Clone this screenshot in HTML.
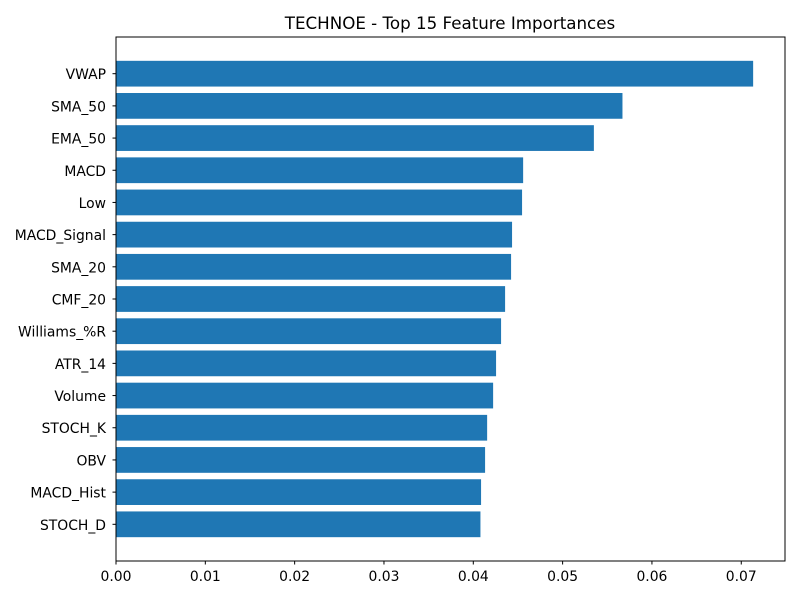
<!DOCTYPE html>
<html><head><meta charset="utf-8"><style>
body{margin:0;background:#fff;font-family:"DejaVu Sans","Liberation Sans",sans-serif}
</style></head><body>
<svg id="chart" width="800" height="600" xmlns="http://www.w3.org/2000/svg" font-family="DejaVu Sans, Liberation Sans, sans-serif">
<rect width="800" height="600" fill="#fff"/>
<text x="450" y="29" text-anchor="middle" font-size="16.7">TECHNOE - Top 15 Feature Importances</text>
<g id="bars"></g><g id="yticks"></g><g id="xticks"></g>
<rect x="116" y="37" width="669" height="524" fill="none" stroke="#000" stroke-width="1"/>
</svg>
<script>
const features=["VWAP","SMA_50","EMA_50","MACD","Low","MACD_Signal","SMA_20","CMF_20","Williams_%R","ATR_14","Volume","STOCH_K","OBV","MACD_Hist","STOCH_D"];
const importances=[0.07133,0.0567,0.0535,0.04558,0.04546,0.04434,0.04423,0.04356,0.04311,0.04255,0.04222,0.04155,0.04132,0.04087,0.0408];
const xTicks=[0,0.01,0.02,0.03,0.04,0.05,0.06,0.07];
const xTickLabels=["0.00","0.01","0.02","0.03","0.04","0.05","0.06","0.07"];
const L=116,R=785,T=37,B=561;
const xmax=Math.max(...importances)*1.05;
const n=features.length;
const x=v=>L+v/xmax*(R-L);
const ymin=-0.4-0.74,ymax=n-1+0.4+0.74;
const y=i=>T+(i-ymin)/(ymax-ymin)*(B-T);
const ns="http://www.w3.org/2000/svg";
const mk=(t,a,p)=>{const e=document.createElementNS(ns,t);for(const k in a)e.setAttribute(k,a[k]);p.appendChild(e);return e;};
const gb=document.getElementById('bars'),gy=document.getElementById('yticks'),gx=document.getElementById('xticks');
const bh=0.8*(B-T)/(ymax-ymin);
features.forEach((f,i)=>{
  const r=mk('rect',{x:L,y:y(i)-bh/2,width:x(importances[i])-L,height:bh,fill:'#1f77b4'},gb);
  
  
  mk('line',{x1:L-3.5,x2:L,y1:y(i),y2:y(i),stroke:'#000'},gy);
  const t=mk('text',{x:L-10,y:y(i)+5.5,'text-anchor':'end','font-size':'13.9'},gy);
  t.textContent=f;
  
  
});
xTicks.forEach((v,i)=>{
  mk('line',{x1:x(v),x2:x(v),y1:B,y2:B+3.5,stroke:'#000'},gx);
  const t=mk('text',{x:x(v),y:B+20,'text-anchor':'middle','font-size':'13.9'},gx);
  t.textContent=xTickLabels[i];
  
  
});
</script>
</body></html>
